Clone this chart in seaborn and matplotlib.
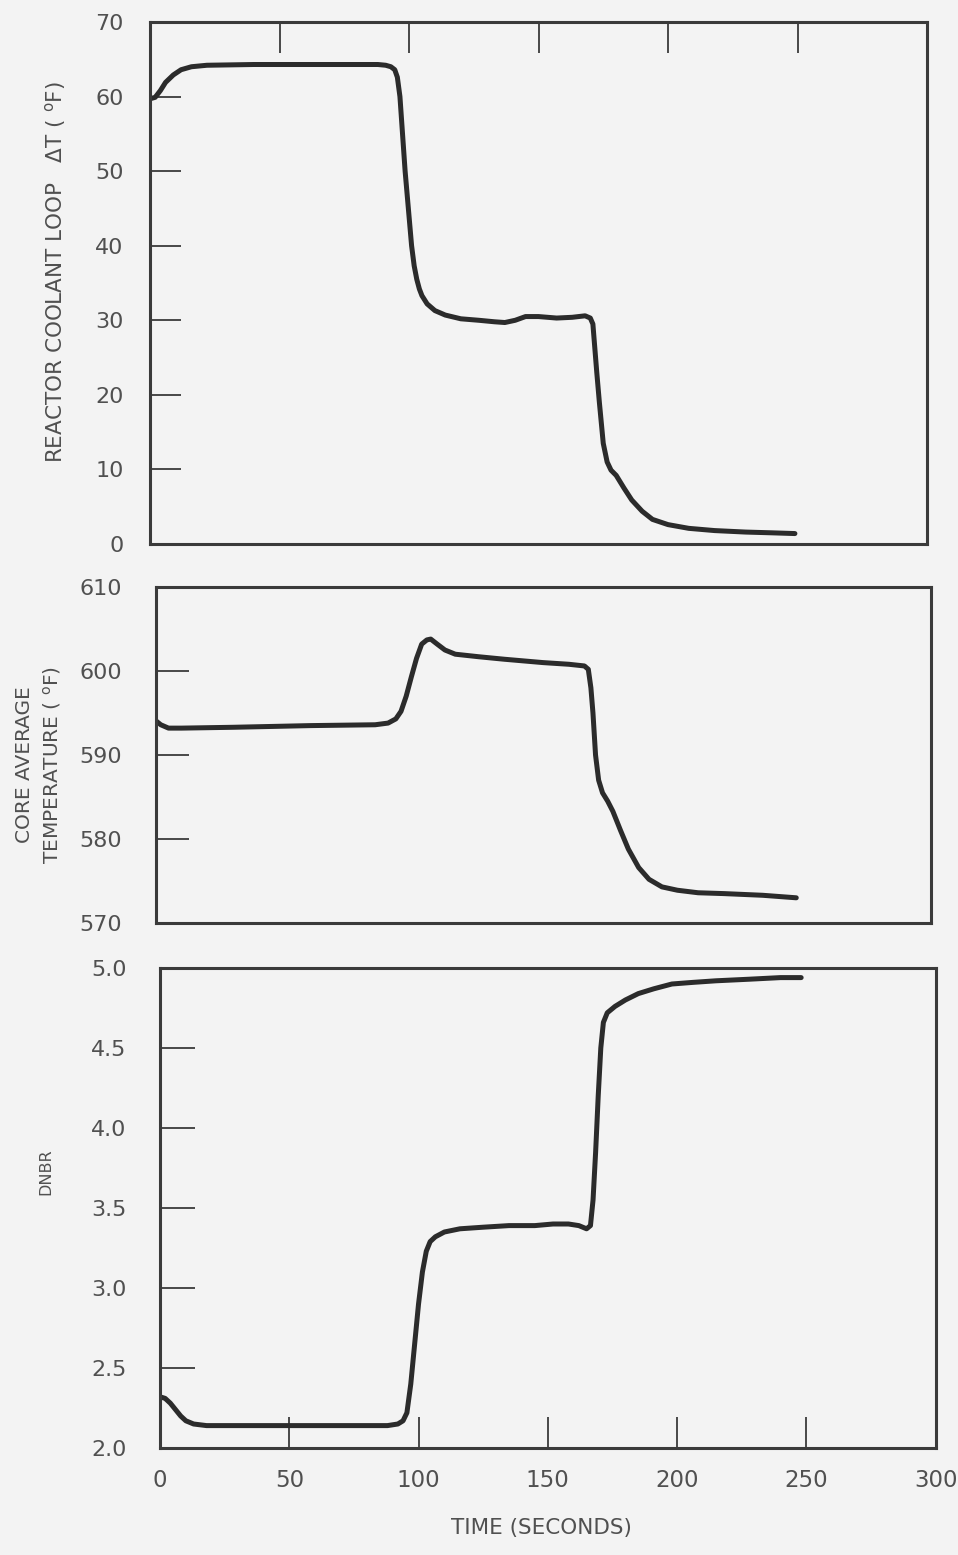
import matplotlib
matplotlib.use("Agg")
import matplotlib.pyplot as plt
import seaborn as sns
import pandas as pd

# ---------------- data ----------------
time_dt = [0, 2, 4, 6, 9, 12, 16, 22, 40, 70, 88, 91, 93, 94.5, 95.5, 96.5, 97.5,
           98.5, 99.5, 101, 102, 103, 104, 105, 107, 110, 114, 120, 127, 133, 137,
           141, 145, 150, 157, 163, 168, 170, 171, 172.5, 173.5, 175, 176.5, 178,
           180, 183, 186, 190, 194, 200, 208, 218, 230, 240, 249]
delta_t = [59.7, 59.9, 60.8, 61.9, 62.9, 63.6, 64.0, 64.2, 64.3, 64.3, 64.3, 64.2,
           64.0, 63.6, 62.6, 60.0, 55.0, 50.0, 46.0, 40.0, 37.3, 35.5, 34.2, 33.3,
           32.2, 31.3, 30.7, 30.2, 30.0, 29.8, 29.7, 30.0, 30.5, 30.5, 30.3, 30.4,
           30.6, 30.3, 29.5, 23.0, 19.0, 13.5, 11.0, 9.9, 9.2, 7.5, 5.9, 4.4, 3.3,
           2.6, 2.1, 1.8, 1.6, 1.5, 1.4]

time_tavg = [0, 2, 5, 10, 30, 60, 85, 90, 93, 95, 97, 99, 101, 103, 105, 106.5, 109,
             112, 116, 125, 135, 150, 160, 166, 167.5, 168.5, 169.3, 170.3, 171.5,
             173, 175, 177, 180, 183, 187, 191, 196, 202, 210, 220, 235, 248]
core_tavg = [594.1, 593.6, 593.2, 593.2, 593.3, 593.5, 593.6, 593.8, 594.3, 595.2,
             597.0, 599.3, 601.5, 603.2, 603.7, 603.8, 603.2, 602.5, 602.0, 601.7,
             601.4, 601.0, 600.8, 600.6, 600.2, 598.0, 595.0, 590.0, 587.0, 585.5,
             584.5, 583.3, 581.0, 578.8, 576.6, 575.2, 574.3, 573.9, 573.6, 573.5,
             573.3, 573.0]

time_dnbr = [0, 2, 4, 6, 8, 10, 13, 18, 30, 60, 88, 92, 94, 95.5, 97, 98.5, 100,
             101.5, 103, 104.5, 106.5, 110, 116, 125, 135, 145, 152, 158, 162, 165,
             166.5, 167.5, 168.5, 169.5, 170.5, 171.5, 173, 176, 180, 185, 191, 198,
             206, 215, 228, 240, 248]
dnbr = [2.32, 2.31, 2.28, 2.24, 2.20, 2.17, 2.15, 2.14, 2.14, 2.14, 2.14, 2.15, 2.17,
        2.22, 2.40, 2.65, 2.90, 3.10, 3.23, 3.29, 3.32, 3.35, 3.37, 3.38, 3.39, 3.39,
        3.40, 3.40, 3.39, 3.37, 3.39, 3.55, 3.85, 4.20, 4.50, 4.66, 4.72, 4.76, 4.80,
        4.84, 4.87, 4.90, 4.91, 4.92, 4.93, 4.94, 4.94]

x_ticks = [0, 50, 100, 150, 200, 250, 300]
dt_ticks = [0, 10, 20, 30, 40, 50, 60, 70]
tavg_ticks = [570, 580, 590, 600, 610]
dnbr_ticks = [2.0, 2.5, 3.0, 3.5, 4.0, 4.5, 5.0]
dnbr_labels = ["2.0", "2.5", "3.0", "3.5", "4.0", "4.5", "5.0"]

# ---------------- style ----------------
sns.set_theme(style="white")
plt.rcParams["font.family"] = ["DejaVu Sans"]
BG = "#f3f3f3"
LINE = "#2b2b2b"
SPINE = "#3a3a3a"
TXT = "#505050"

fig = plt.figure(figsize=(9.58, 15.55), dpi=100, facecolor=BG)

ax1 = fig.add_axes([150 / 958, 1 - 544 / 1555, 777 / 958, 522 / 1555])
ax2 = fig.add_axes([155.6 / 958, 1 - 923 / 1555, 775 / 958, 336 / 1555])
ax3 = fig.add_axes([160 / 958, 1 - 1448 / 1555, 775.6 / 958, 480 / 1555])

df1 = pd.DataFrame({"t": time_dt, "v": delta_t})
df2 = pd.DataFrame({"t": time_tavg, "v": core_tavg})
df3 = pd.DataFrame({"t": time_dnbr, "v": dnbr})

for ax, df in ((ax1, df1), (ax2, df2), (ax3, df3)):
    ax.set_facecolor(BG)
    sns.lineplot(data=df, x="t", y="v", ax=ax, color=LINE, linewidth=3.6,
                 solid_capstyle="round", solid_joinstyle="round")
    ax.set_xlim(0, 300)
    ax.set_xlabel("")
    ax.set_ylabel("")
    for s in ax.spines.values():
        s.set_visible(True)
        s.set_color(SPINE)
        s.set_linewidth(2.2)
    ax.set_xticks(x_ticks)

# top panel
ax1.set_ylim(0, 70)
ax1.set_yticks(dt_ticks)
ax1.tick_params(axis="y", direction="in", length=22, width=1.3, color=SPINE,
                labelcolor=TXT, labelsize=16, pad=19, left=True)
ax1.tick_params(axis="x", direction="in", length=22, width=1.3, color=SPINE,
                top=True, bottom=False, labeltop=False, labelbottom=False)

# middle panel
ax2.set_ylim(570, 610)
ax2.set_yticks(tavg_ticks)
ax2.tick_params(axis="y", direction="in", length=24, width=1.3, color=SPINE,
                labelcolor=TXT, labelsize=16, pad=24, left=True)
ax2.tick_params(axis="x", bottom=False, top=False, labelbottom=False)

# bottom panel
ax3.set_ylim(2.0, 5.0)
ax3.set_yticks(dnbr_ticks)
ax3.set_yticklabels(dnbr_labels)
ax3.tick_params(axis="y", direction="in", length=25, width=1.3, color=SPINE,
                labelcolor=TXT, labelsize=16, pad=24, left=True)
ax3.tick_params(axis="x", direction="in", length=22, width=1.3, color=SPINE,
                labelcolor=TXT, labelsize=16.5, pad=15, bottom=True)

# axis titles
fig.text(56 / 958, 1 - 272 / 1555,
         r"REACTOR COOLANT LOOP   $\Delta$T ( $\mathregular{^o}$F)",
         rotation=90, ha="center", va="center", fontsize=15.5, color=TXT)
fig.text(39 / 958, 1 - 765 / 1555,
         "CORE AVERAGE\nTEMPERATURE ( $\\mathregular{^o}$F)",
         rotation=90, ha="center", va="center", multialignment="center",
         fontsize=14.5, color=TXT, linespacing=1.35)
fig.text(46 / 958, 1 - 1172 / 1555, "DNBR", rotation=90, ha="center",
         va="center", fontsize=11.5, color=TXT)
fig.text(541 / 958, 1 - 1528 / 1555, "TIME (SECONDS)", ha="center",
         va="center", fontsize=15.5, color=TXT)

fig.savefig("out.png", dpi=100, facecolor=BG)
